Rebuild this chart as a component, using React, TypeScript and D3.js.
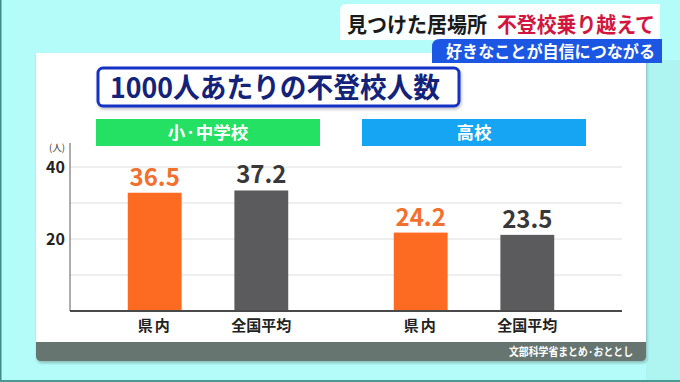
import React from "react";
import * as d3 from "d3";

const groups = ["小·中学校", "高校"];
const groupColors = ["#24e063", "#16a5f2"];
const categories = ["県内", "全国平均"];
const values = [
  [36.5, 37.2],
  [24.2, 23.5],
];
const barColors = ["#fd6a22", "#5b5b5d"];
const labelColors = ["#f2702e", "#383838"];
const gridValues = [10, 20, 30, 40];
const tickValues = [20, 40];

const W = 680;
const H = 382;
const FONT = "'Noto Sans CJK JP', 'Noto Sans', sans-serif";

export default function App() {
  const baseY = 311;
  const axisX = 70;
  const plotRight = 622;

  const x0 = d3.scaleBand<string>().domain(groups).range([75, 607]).padding(0);
  const x1 = d3
    .scaleBand<string>()
    .domain(categories)
    .range([0, x0.bandwidth()])
    .padding(0.495);
  // axis ticks scale (as labelled in the source graphic)
  const yAxis = d3.scaleLinear().domain([0, 40]).range([baseY, 167]);
  // bar scale (bars in the source graphic are drawn at this scale)
  const yBar = d3.scaleLinear().domain([0, 40]).range([baseY, baseY - 129.6]);

  return (
    <svg
      width={W}
      height={H}
      viewBox={`0 0 ${W} ${H}`}
      style={{ position: "absolute", left: 0, top: 0, display: "block" }}
      fontFamily={FONT}
    >
      <defs>
        <filter id="sh" x="-5%" y="-5%" width="110%" height="120%">
          <feDropShadow dx="1" dy="2" stdDeviation="1.5" floodColor="#000" floodOpacity="0.25" />
        </filter>
      </defs>
      {/* background */}
      <rect x={0} y={0} width={W} height={H} fill="#b4fcfa" />
      <rect x={646} y={60} width={34} height={320} fill="#aef5f2" />
      <rect x={0} y={0} width={1.5} height={H} fill="#3f8b86" />
      <rect x={0} y={380} width={W} height={2} fill="#4a9994" />

      {/* main panel */}
      <g filter="url(#sh)">
        <rect x={36} y={53} width={610} height={290} fill="#ffffff" />
        <path d="M36,342 H646 V356 Q646,361 641,361 H41 Q36,361 36,356 Z" fill="#667570" />
      </g>
      <text
        x={633}
        y={356}
        fill="#ffffff"
        fontSize={11}
        fontWeight={700}
        textAnchor="end"
        textLength={124}
        lengthAdjust="spacingAndGlyphs"
      >
        文部科学省まとめ·おととし
      </text>

      {/* header */}
      <path d="M346,4 H660 V40 H340 V10 Q340,4 346,4 Z" fill="#ffffff" opacity={0.95} />
      <text x={347} y={32} fontSize={21} fontWeight={700} fill="#1a1a1a" textLength={140} lengthAdjust="spacingAndGlyphs">
        見つけた居場所
      </text>
      <text x={497} y={32} fontSize={21} fontWeight={700} fill="#d2163f" textLength={158} lengthAdjust="spacingAndGlyphs">
        不登校乗り越えて
      </text>
      <path d="M440,39 H662 V63 H432 V47 Q432,39 440,39 Z" fill="#1b57e3" />
      <text x={446} y={58} fontSize={16.5} fontWeight={700} fill="#ffffff" textLength={209} lengthAdjust="spacingAndGlyphs">
        好きなことが自信につながる
      </text>

      {/* title box */}
      <g filter="url(#sh)">
        <rect x={98} y={68} width={361} height={38} rx={5} fill="#ffffff" stroke="#1332c4" strokeWidth={3} />
      </g>
      <text x={110} y={98} fontSize={28} fontWeight={700} fill="#13237a" textLength={330} lengthAdjust="spacingAndGlyphs">
        1000人あたりの不登校人数
      </text>

      {/* group headers */}
      {groups.map((g, i) => {
        const cx = (x0(g) as number) + x0.bandwidth() / 2;
        return (
          <g key={g}>
            <rect x={cx - 112} y={119} width={224} height={27} fill={groupColors[i]} />
            <text x={cx} y={139} fontSize={17.5} fontWeight={700} fill="#ffffff" textAnchor="middle">
              {g}
            </text>
          </g>
        );
      })}

      {/* gridlines */}
      {gridValues.map((v) => (
        <line key={v} x1={axisX} x2={plotRight} y1={yAxis(v)} y2={yAxis(v)} stroke="#dedede" strokeWidth={1} />
      ))}
      {/* y axis */}
      <line x1={axisX} x2={axisX} y1={143} y2={baseY} stroke="#5a5a5a" strokeWidth={1} />
      <text x={57} y={151} fontSize={9.5} fill="#333" textAnchor="middle">
        (人)
      </text>
      {tickValues.map((v) => (
        <text key={v} x={65} y={yAxis(v) + 6} fontSize={16} fontWeight={700} fill="#222" textAnchor="end">
          {v}
        </text>
      ))}

      {/* bars */}
      {groups.map((g, gi) =>
        categories.map((c, ci) => {
          const x = (x0(g) as number) + (x1(c) as number);
          const v = values[gi][ci];
          const cx = x + x1.bandwidth() / 2;
          return (
            <g key={g + c}>
              <rect x={x} y={yBar(v)} width={x1.bandwidth()} height={baseY - yBar(v)} fill={barColors[ci]} />
              <text x={cx} y={yBar(v) - 7} fontSize={24} fontWeight={700} fill={labelColors[ci]} textAnchor="middle">
                {v.toFixed(1)}
              </text>
              <text x={cx} y={331} fontSize={15} fontWeight={700} fill="#222" textAnchor="middle" letterSpacing={c.length === 2 ? 2 : 0}>
                {c}
              </text>
            </g>
          );
        })
      )}
      {/* baseline */}
      <line x1={axisX} x2={plotRight} y1={baseY} y2={baseY} stroke="#4a4a4a" strokeWidth={2} />
    </svg>
  );
}
